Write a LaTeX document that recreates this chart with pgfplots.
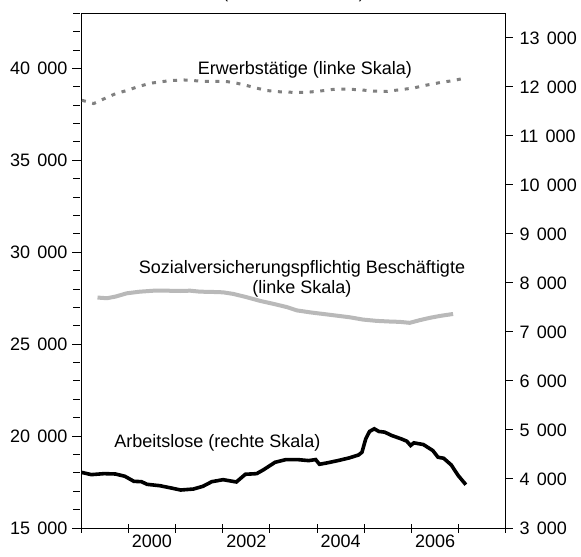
\documentclass[border=0pt]{standalone}
\usepackage{fontspec}
\setmainfont{Liberation Sans}
\usepackage{pgfplots}
\pgfplotsset{compat=1.18}

\definecolor{erwgray}{RGB}{128,128,128}
\definecolor{svgray}{RGB}{185,185,185}

\begin{document}
\begin{tikzpicture}
\pgfplotsset{
  every tick label/.append style={font=\fontsize{9}{10}\selectfont},
  /pgf/number format/assume math mode=true,
  /pgf/number format/1000 sep={\hspace{0.4em}},
}
% left axis (linke Skala) + x axis
\begin{axis}[
  at={(0,0)}, anchor=south west,
  scale only axis, width=212.5pt, height=257.35pt,
  xmin=1999, xmax=2008, ymin=15000, ymax=43000,
  xtick={1999,...,2008}, xticklabels={},
  extra x ticks={2000.5,2002.5,2004.5,2006.5},
  extra x tick labels={2000,2002,2004,2006},
  extra x tick style={major tick length=0pt},
  xtick pos=bottom, ytick pos=left,
  ytick={15000,20000,25000,30000,35000,40000},
  minor ytick={16000,17000,18000,19000,21000,22000,23000,24000,26000,27000,28000,29000,31000,32000,33000,34000,36000,37000,38000,39000,41000,42000,43000},
  tick align=center, major tick length=4.5pt, minor tick length=3.6pt,
  y tick style={xshift=-2.1pt},
  scaled y ticks=false,
  yticklabel style={xshift=-1pt},
  xticklabel style={yshift=0pt},
  axis line style={line width=0.5pt},
  every tick/.style={black, line width=0.5pt},
  clip=false,
]
\addplot[erwgray, line width=1.5pt, dash pattern=on 2pt off 3.3pt] coordinates {
(1999.02,38268) (1999.27,38090) (1999.48,38340) (1999.73,38625) (1999.97,38800)
(2000.22,39018) (2000.47,39196) (2000.68,39268) (2000.89,39340) (2001.17,39375)
(2001.38,39340) (2001.59,39300) (2001.88,39300) (2002.09,39286) (2002.30,39196)
(2002.51,39071) (2002.72,38930) (2002.93,38800) (2003.21,38730) (2003.49,38700)
(2003.78,38700) (2004.06,38770) (2004.34,38860) (2004.62,38875) (2004.90,38840)
(2005.19,38770) (2005.47,38750) (2005.75,38840) (2006.03,38930) (2006.31,39090)
(2006.60,39230) (2006.88,39340) (2007.05,39430)
};
\addplot[svgray, line width=2pt] coordinates {
(1999.35,27536) (1999.55,27500) (1999.73,27589) (1999.97,27768) (2000.25,27857)
(2000.54,27910) (2000.82,27910) (2001.10,27893) (2001.31,27910) (2001.52,27857)
(2001.80,27840) (2002.01,27821) (2002.23,27732) (2002.51,27554) (2002.79,27357)
(2003.07,27196) (2003.36,27018) (2003.57,26839) (2003.85,26732) (2004.13,26643)
(2004.41,26554) (2004.69,26464) (2004.97,26339) (2005.26,26268) (2005.54,26232)
(2005.75,26214) (2005.96,26161) (2006.17,26304) (2006.38,26429) (2006.60,26536)
(2006.88,26643)
};
\node[anchor=base, font=\fontsize{9}{10}\selectfont] at (axis cs:2003.74,39646) {Erwerbstätige (linke Skala)};
\node[anchor=base, font=\fontsize{9}{10}\selectfont] at (axis cs:2003.68,28850) {Sozialversicherungspflichtig Beschäftigte};
\node[anchor=base, font=\fontsize{9}{10}\selectfont] at (axis cs:2003.68,27763) {(linke Skala)};
\node[anchor=base, font=\fontsize{9}{10}\selectfont] at (axis cs:2001.89,19388) {Arbeitslose (rechte Skala)};
\node[anchor=base, font=\fontsize{8}{10}\selectfont, yshift=7.3pt] at (rel axis cs:0.5,1) {(Anzahl in Tausend)};
\end{axis}
% right axis (rechte Skala)
\begin{axis}[
  at={(0,0)}, anchor=south west,
  scale only axis, width=212.5pt, height=257.35pt,
  xmin=1999, xmax=2008, ymin=3000, ymax=13500,
  axis x line=none, axis y line*=right,
  ytick={3000,4000,...,13000},
  tick align=outside, major tick length=3.3pt,
  scaled y ticks=false,
  yticklabel style={xshift=0pt},
  axis line style={line width=0.5pt},
  every tick/.style={black, line width=0.5pt},
]
\addplot[black, line width=1.8pt] coordinates {
(1999.00,4137) (1999.22,4089) (1999.49,4109) (1999.73,4102) (1999.93,4055)
(2000.12,3952) (2000.28,3945) (2000.40,3891) (2000.67,3863) (2000.91,3816)
(2001.11,3775) (2001.38,3795) (2001.58,3850) (2001.77,3945) (2002.01,3986)
(2002.17,3959) (2002.29,3939) (2002.48,4096) (2002.72,4109) (2002.87,4191)
(2003.11,4341) (2003.34,4396) (2003.58,4396) (2003.82,4375) (2003.97,4396)
(2004.05,4300) (2004.21,4328) (2004.44,4375) (2004.68,4430) (2004.88,4491)
(2004.95,4546) (2005.03,4819) (2005.11,4969) (2005.21,5024) (2005.31,4969)
(2005.43,4956) (2005.58,4887) (2005.78,4819) (2005.90,4771) (2005.98,4683)
(2006.05,4737) (2006.25,4703) (2006.45,4580) (2006.56,4444) (2006.68,4423)
(2006.84,4287) (2006.99,4068) (2007.15,3884)
};
\end{axis}
\pgfresetboundingbox
\path[use as bounding box] (-40.5pt,-14pt) rectangle (250pt,264pt);
\end{tikzpicture}
\end{document}
